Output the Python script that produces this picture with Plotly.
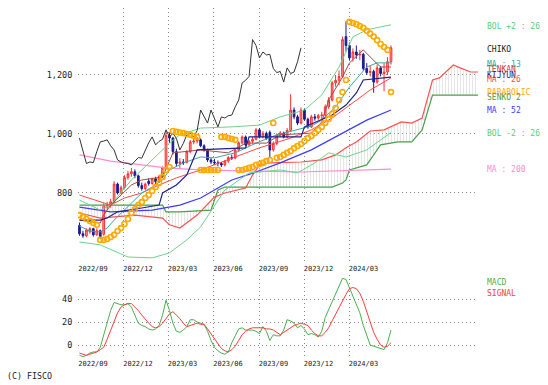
import datetime as dt
import plotly.graph_objects as go

# ---------------- data (weekly, first candle 2022-09-02) ----------------
START = dt.date(2022, 9, 2)

open_ = [690, 662, 655, 668, 679, 658, 672, 660, 752, 760,
         770, 830, 800, 818, 852, 865, 872, 858, 825, 815,
         840, 832, 848, 838, 856, 885, 995, 986, 940, 900,
         905, 903, 940, 973, 976, 980, 960, 946, 912, 905,
         902, 900, 895, 908, 920, 918, 945, 970, 990, 963,
         975, 982, 1014, 990, 1002, 1005, 946, 968, 997, 1003,
         990, 1012, 1081, 1058, 1037, 1081, 1050, 1024, 1058, 1054,
         1062, 1064, 1092, 1115, 1173, 1182, 1195, 1330, 1300, 1258,
         1278, 1268, 1270, 1222, 1208, 1212, 1176, 1224, 1205, 1210, 1245]
high = [700, 672, 680, 684, 682, 680, 676, 765, 770, 780,
        840, 835, 825, 860, 875, 885, 880, 862, 835, 835,
        850, 852, 855, 862, 890, 1010, 1005, 990, 950, 918,
        915, 945, 980, 985, 990, 985, 965, 950, 918, 915,
        910, 905, 912, 925, 930, 950, 975, 995, 995, 980,
        990, 1020, 1020, 1010, 1008, 1012, 975, 1002, 1010, 1008,
        1020, 1135, 1090, 1065, 1090, 1085, 1055, 1065, 1068, 1068,
        1075, 1100, 1125, 1180, 1200, 1215, 1330, 1382, 1310, 1290,
        1300, 1285, 1275, 1240, 1230, 1218, 1235, 1230, 1240, 1260, 1300]
low = [655, 648, 650, 662, 652, 655, 645, 655, 742, 750,
       765, 795, 795, 812, 845, 855, 850, 818, 808, 810,
       825, 828, 830, 835, 850, 880, 970, 930, 890, 885,
       895, 900, 935, 965, 968, 955, 940, 905, 898, 895,
       890, 888, 890, 902, 912, 915, 940, 965, 958, 960,
       968, 978, 985, 985, 980, 918, 940, 962, 990, 985,
       985, 1008, 1050, 1030, 1032, 1045, 1018, 1020, 1045, 1048,
       1050, 1060, 1085, 1110, 1160, 1165, 1190, 1280, 1250, 1245,
       1255, 1250, 1215, 1200, 1195, 1140, 1170, 1195, 1145, 1200, 1235]
close = [662, 655, 674, 679, 658, 672, 652, 755, 760, 770,
         830, 800, 818, 852, 865, 872, 858, 825, 815, 830,
         832, 848, 838, 856, 885, 995, 986, 940, 900, 905,
         903, 940, 973, 976, 980, 960, 946, 912, 905, 902,
         900, 895, 908, 920, 918, 945, 970, 990, 963, 975,
         982, 1014, 990, 1002, 985, 946, 968, 997, 1003, 990,
         1012, 1081, 1058, 1037, 1081, 1050, 1024, 1058, 1054, 1062,
         1064, 1092, 1115, 1173, 1182, 1195, 1320, 1300, 1258, 1278,
         1268, 1270, 1222, 1208, 1212, 1176, 1224, 1205, 1210, 1245, 1292]

ma13_w = [0, 3, 6, 8, 10, 13, 16, 18, 21, 24, 26, 30, 35, 39, 45, 51, 57, 63, 67, 70, 74, 78, 83, 86, 90]
ma13_v = [688, 671, 668, 681, 708, 742, 776, 800, 820, 844, 878, 902, 922, 919, 936, 969, 997, 1014, 1027, 1047, 1092, 1159, 1227, 1241, 1241]

tenkan_w = [0, 6, 7, 9, 12, 15, 18, 24, 27, 35, 43, 48, 54, 58, 67, 70, 72, 76, 78, 82, 84, 87, 90]
tenkan_v = [708, 698, 725, 759, 793, 827, 844, 854, 936, 946, 936, 969, 969, 997, 1003, 1041, 1115, 1193, 1241, 1285, 1261, 1227, 1227]

kijun_w = [0, 6, 8, 11, 18, 23, 24, 28, 31, 34, 48, 49, 64, 65, 73, 77, 80, 82, 90]
kijun_v = [708, 708, 715, 736, 749, 759, 800, 827, 861, 946, 953, 990, 990, 1024, 1064, 1098, 1139, 1183, 1193]

ma26_w = [0, 5, 9, 13, 18, 23, 28, 35, 44, 52, 61, 67, 73, 78, 84, 90]
ma26_v = [793, 773, 759, 783, 800, 827, 851, 878, 919, 953, 986, 1014, 1054, 1098, 1149, 1190]

ma52_w = [0, 9, 21, 29, 35, 44, 51, 58, 67, 76, 83, 90]
ma52_v = [752, 736, 742, 759, 783, 844, 871, 902, 946, 1003, 1047, 1081]

ma200_w = [0, 9, 18, 25, 35, 64, 90]
ma200_v = [929, 908, 895, 885, 878, 871, 881]

bolu_w = [0, 3, 6, 9, 15, 21, 26, 29, 35, 44, 52, 58, 65, 70, 75, 79, 83, 87, 90]
bolu_v = [776, 759, 742, 759, 844, 912, 969, 997, 1020, 1024, 1030, 1058, 1081, 1132, 1227, 1329, 1353, 1363, 1370]

bold_w = [0, 6, 14, 21, 26, 31, 35, 42, 49, 58, 63, 68, 72, 77, 83, 90]
bold_v = [634, 624, 583, 580, 597, 641, 685, 810, 868, 878, 868, 902, 936, 922, 946, 1005]

senko1_w = [0, 6, 16, 24, 26, 29, 34, 39, 42, 48, 50, 52, 55, 64, 70, 74, 77, 80, 84, 88, 93, 96, 99, 101, 102, 104, 108, 110, 113, 116]
senko1_v = [732, 715, 725, 715, 692, 681, 725, 786, 800, 817, 861, 895, 902, 905, 912, 929, 953, 973, 1010, 1014, 1041, 1037, 1054, 1140, 1183, 1190, 1234, 1224, 1210, 1210]

senko2_w = [0, 24, 25, 29, 38, 39, 40, 42, 73, 76, 77, 78, 83, 84, 85, 87, 92, 96, 99, 102, 116]
senko2_v = [759, 759, 736, 736, 742, 776, 810, 820, 820, 834, 844, 878, 895, 912, 929, 963, 973, 973, 1014, 1132, 1132]

sar = [725, 719, 712, 705, 698, 692,
       641, 641, 644, 651, 658, 671, 681, 695, 712, 732, 745, 759, 769, 783, 793, 807, 820, 834, 854, 878, 888,
       1010, 1007, 1005, 1003, 1000, 997, 993, 990,
       878, 878, 878, 878, 878, 878,
       990, 990, 986, 983, 980,
       878, 878, 881, 885, 888, 895, 898, 902, 908, 912,
       1037,
       919, 922, 929, 936, 942, 952, 959, 966, 976, 986, 993, 1003, 1014, 1024, 1037, 1051, 1068, 1088, 1115, 1142, 1183,
       1380, 1376, 1372, 1366, 1360, 1350, 1340, 1330, 1318, 1305, 1295, 1285,
       1142]

macd = [-9, -10, -9, -7, -6, -6, -2, 8, 20, 30,
        37, 36, 35, 35, 36, 33, 26, 19, 17, 16,
        14, 13, 14, 17, 26, 39, 30, 19, 12, 11,
        13, 16, 22, 22, 20, 19, 18, 12, 4, -2,
        -5, -7, -8, -6, 2, 8, 14, 15, 13, 13,
        13, 12, 10, 16, 12, 4, 9, 8, 8, 13,
        22, 21, 19, 15, 17, 14, 9, 10, 9, 7,
        12, 24, 31, 37, 45, 52, 58, 57, 50, 43,
        36, 28, 17, 8, 0, -1, -2, -3, -4, 2, 13]
signal = [-7, -8, -9, -8, -7, -6, -4, -2, 5, 13,
          21, 28, 33, 35, 36, 36, 33, 30, 26, 22,
          19, 16, 15, 16, 19, 23, 27, 29, 26, 23,
          19, 16, 17, 18, 19, 18, 18, 14, 10, 6,
          1, -3, -5, -6, -4, -1, 4, 9, 12, 14,
          15, 15, 15, 15, 14, 14, 13, 11, 9, 11,
          13, 15, 17, 18, 19, 18, 17, 13, 10, 8,
          8, 11, 15, 21, 27, 33, 38, 44, 49, 50,
          49, 45, 38, 29, 20, 11, 5, 0, -2, -1, 2]

tick_dates = ["2022-09-01", "2022-12-01", "2023-03-01", "2023-06-01", "2023-09-01", "2023-12-01", "2024-03-01"]
tick_text = ["2022/09", "2022/12", "2023/03", "2023/06", "2023/09", "2023/12", "2024/03"]

# ---------------- figure ----------------
def d(w):
    return START + dt.timedelta(days=7 * w)

dates = [d(w) for w in range(len(close))]
CHIKO_SHIFT = 26

FONT = "DejaVu Sans Mono"
fig = go.Figure()

def line(ws, vs, color, width=1.0, **kw):
    fig.add_trace(go.Scatter(x=[d(w) for w in ws], y=vs, mode="lines",
                             line=dict(color=color, width=width), hoverinfo="skip", **kw))

# Ichimoku cloud
line(senko2_w, senko2_v, "#4aa04a", 1.2)
line(senko1_w, senko1_v, "#ff5050", 1.2, fill="tonexty", fillcolor="rgba(0,0,0,0)",
     fillpattern=dict(shape="|", fgcolor="#c8c8c8", size=3, solidity=0.3))

line(ma200_w, ma200_v, "#ff8ccc", 1.2)
line(ma52_w, ma52_v, "#3c3cff", 1.2)
line(bolu_w, bolu_v, "#6ad48e", 1.0)
line(bold_w, bold_v, "#6ad48e", 1.0)

# Chiko span: closes shifted back 26 weeks
fig.add_trace(go.Scatter(x=[d(w - CHIKO_SHIFT) for w in range(CHIKO_SHIFT, len(close))],
                         y=close[CHIKO_SHIFT:], mode="lines",
                         line=dict(color="#333333", width=1.0), hoverinfo="skip"))

fig.add_trace(go.Candlestick(x=dates, open=open_, high=high, low=low, close=close,
                             increasing=dict(line=dict(color="#ff3030", width=1), fillcolor="#ff9a9a"),
                             decreasing=dict(line=dict(color="#1c1c8c", width=1), fillcolor="#1c1c8c"),
                             whiskerwidth=0, hoverinfo="skip"))

line(ma26_w, ma26_v, "#ff4a4a", 1.0)
line(ma13_w, ma13_v, "#3aa6a6", 1.0)
line(tenkan_w, tenkan_v, "#a84848", 1.0)
line(kijun_w, kijun_v, "#22228a", 1.2)

fig.add_trace(go.Scatter(x=dates, y=sar, mode="markers",
                         marker=dict(symbol="circle-open", size=5, color="#ffaa00", line=dict(width=1.6)),
                         hoverinfo="skip"))

# MACD panel
fig.add_trace(go.Scatter(x=dates, y=macd, mode="lines", line=dict(color="#4caf50", width=1),
                         xaxis="x2", yaxis="y2", hoverinfo="skip"))
fig.add_trace(go.Scatter(x=dates, y=signal, mode="lines", line=dict(color="#ff3c3c", width=1),
                         xaxis="x2", yaxis="y2", hoverinfo="skip"))

grid = dict(showgrid=True, gridcolor="#8c8c8c", griddash="1px,3px", gridwidth=1,
            zeroline=False, showline=False)
xcommon = dict(grid, range=["2022-08-30", "2024-11-16"], tickvals=tick_dates, ticktext=tick_text,
               tickfont=dict(family=FONT, size=7, color="#222"), ticks="", ticklabelshift=14,
               ticklabelstandoff=1)

# The page body has an 8px margin: the figure is sized and placed to compensate.
fig.update_layout(
    width=540, height=377,
    margin=dict(l=70, r=70, t=0, b=28),
    paper_bgcolor="white", plot_bgcolor="white",
    showlegend=False,
    xaxis=dict(xcommon, anchor="y", rangeslider=dict(visible=False)),
    xaxis2=dict(xcommon, anchor="y2", matches="x"),
    yaxis=dict(grid, domain=[0.2722, 1], range=[566, 1427], tickvals=[800, 1000, 1200],
               ticktext=["800", "1,000", "1,200"], ticks="outside", ticklen=3, tickcolor="rgba(0,0,0,0)",
               tickfont=dict(family=FONT, size=8.5, color="#222")),
    yaxis2=dict(grid, domain=[0, 0.235], range=[-10.4, 60.9], tickvals=[0, 20, 40],
                ticks="outside", ticklen=3, tickcolor="rgba(0,0,0,0)",
                tickfont=dict(family=FONT, size=8.5, color="#222")),
)

labels_main = [
    ("BOL +2 : 26", 1363, "#5ccc80"),
    ("CHIKO", 1288, "#222222"),
    ("MA : 13", 1234, "#3aa6a6"),
    ("TENKAN", 1220, "#d04040"),
    ("KIJYUN", 1198, "#22228a"),
    ("MA : 26", 1183, "#ff4a4a"),
    ("PARABOLIC", 1142, "#ffaa00"),
    ("SENKO 2", 1125, "#4aa04a"),
    ("MA : 52", 1078, "#3c3cff"),
    ("BOL -2 : 26", 1000, "#5ccc80"),
    ("MA : 200", 878, "#ff8ccc"),
]
for txt, yv, col in labels_main:
    fig.add_annotation(text=txt, xref="paper", x=1.025, xanchor="left", xshift=-2, yref="y", y=yv,
                       yanchor="middle", showarrow=False, borderpad=0,
                       font=dict(family=FONT, size=8.0, color=col))
for txt, yv, col in [("MACD", 54, "#4caf50"), ("SIGNAL", 45, "#ff3c3c")]:
    fig.add_annotation(text=txt, xref="paper", x=1.025, xanchor="left", xshift=-2, yref="y2", y=yv,
                       yanchor="middle", showarrow=False, borderpad=0,
                       font=dict(family=FONT, size=8.0, color=col))

fig.add_annotation(text="(C) FISCO", xref="paper", x=-0.18, xanchor="left", yref="paper", y=-0.054,
                   yanchor="middle", showarrow=False, borderpad=0,
                   font=dict(family=FONT, size=8.3, color="#222"))

fig.write_html("out.html")
